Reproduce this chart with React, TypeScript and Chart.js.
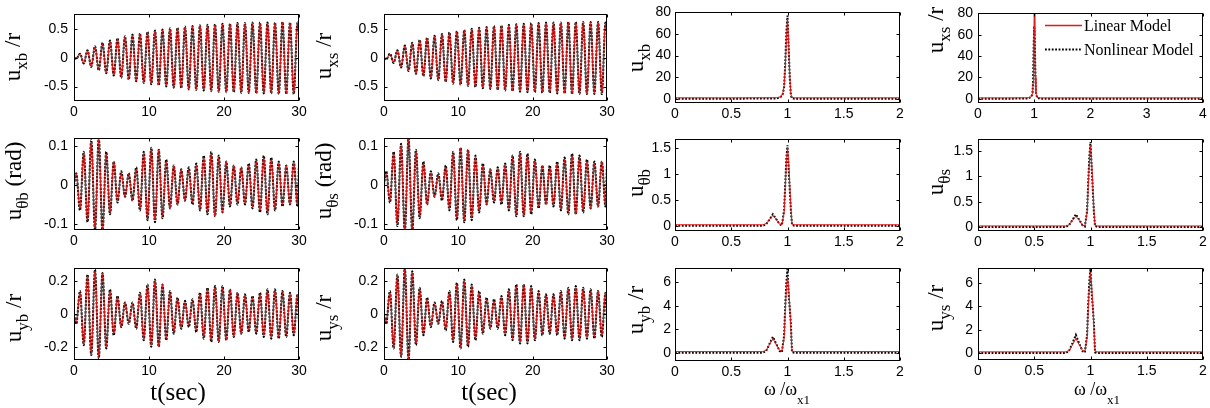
import React, { useEffect, useRef } from 'react';
import { Chart, registerables } from 'chart.js';
Chart.register(...registerables);

// ---------- time-domain data (extrema) ----------
const tExt = [0,
  0.3, 0.8, 1.3, 1.8, 2.3, 2.8, 3.3, 3.8, 4.3, 4.8, 5.3, 5.8, 6.3, 6.8, 7.3, 7.8, 8.3, 8.8, 9.3, 9.8,
  10.3, 10.8, 11.3, 11.8, 12.3, 12.8, 13.3, 13.8, 14.3, 14.8, 15.3, 15.8, 16.3, 16.8, 17.3, 17.8, 18.3, 18.8, 19.3, 19.8,
  20.3, 20.8, 21.3, 21.8, 22.3, 22.8, 23.3, 23.8, 24.3, 24.8, 25.3, 25.8, 26.3, 26.8, 27.3, 27.8, 28.3, 28.8, 29.3, 29.8,
  30];

const uxbLin = [0,
  -0.02, 0.06, -0.09, 0.12, -0.15, 0.19, -0.21, 0.24, -0.26, 0.29, -0.30, 0.32, -0.34, 0.36, -0.37, 0.39, -0.40, 0.41, -0.43, 0.44,
  -0.45, 0.46, -0.47, 0.48, -0.49, 0.50, -0.51, 0.51, -0.52, 0.53, -0.54, 0.54, -0.55, 0.55, -0.56, 0.56, -0.57, 0.57, -0.58, 0.58,
  -0.59, 0.58, -0.59, 0.59, -0.60, 0.59, -0.60, 0.60, -0.61, 0.60, -0.61, 0.60, -0.61, 0.60, -0.62, 0.61, -0.62, 0.60, -0.62, 0.60,
  0.45];
const uxbNon = [0,
  -0.02, 0.07, -0.10, 0.13, -0.16, 0.20, -0.22, 0.26, -0.27, 0.30, -0.31, 0.34, -0.35, 0.37, -0.38, 0.40, -0.41, 0.42, -0.44, 0.45,
  -0.46, 0.47, -0.48, 0.49, -0.50, 0.51, -0.52, 0.52, -0.53, 0.54, -0.55, 0.55, -0.56, 0.56, -0.57, 0.57, -0.58, 0.58, -0.59, 0.59,
  -0.60, 0.59, -0.60, 0.60, -0.61, 0.60, -0.61, 0.61, -0.62, 0.61, -0.62, 0.61, -0.62, 0.61, -0.63, 0.62, -0.63, 0.61, -0.63, 0.61,
  0.46];

const uxsLin = [0,
  -0.03, 0.06, -0.08, 0.12, -0.16, 0.20, -0.22, 0.25, -0.27, 0.30, -0.31, 0.34, -0.35, 0.37, -0.38, 0.40, -0.41, 0.43, -0.44, 0.45,
  -0.46, 0.47, -0.48, 0.49, -0.50, 0.51, -0.52, 0.52, -0.53, 0.54, -0.55, 0.55, -0.56, 0.56, -0.57, 0.57, -0.58, 0.58, -0.59, 0.59,
  -0.59, 0.59, -0.60, 0.60, -0.60, 0.60, -0.61, 0.60, -0.61, 0.61, -0.62, 0.61, -0.62, 0.61, -0.62, 0.61, -0.62, 0.61, -0.62, 0.60,
  0.44];
const uxsNon = [0,
  -0.03, 0.07, -0.09, 0.13, -0.17, 0.21, -0.23, 0.26, -0.28, 0.31, -0.32, 0.35, -0.36, 0.38, -0.39, 0.41, -0.42, 0.44, -0.45, 0.46,
  -0.47, 0.48, -0.49, 0.50, -0.51, 0.52, -0.53, 0.53, -0.54, 0.55, -0.56, 0.56, -0.57, 0.57, -0.58, 0.58, -0.59, 0.59, -0.60, 0.60,
  -0.60, 0.60, -0.61, 0.61, -0.61, 0.61, -0.62, 0.61, -0.62, 0.62, -0.63, 0.62, -0.63, 0.62, -0.63, 0.62, -0.63, 0.62, -0.63, 0.61,
  0.45];

const uthbLin = [0,
  0.03, -0.06, 0.08, -0.09, 0.11, -0.11, 0.115, -0.115, 0.08, -0.07, 0.06, -0.04, 0.03, -0.03, 0.03, -0.04, 0.04, -0.06, 0.08, -0.085,
  0.09, -0.09, 0.09, -0.08, 0.06, -0.06, 0.05, -0.05, 0.04, -0.04, 0.04, -0.045, 0.05, -0.06, 0.07, -0.07, 0.08, -0.08, 0.07, -0.07,
  0.06, -0.05, 0.05, -0.045, 0.045, -0.045, 0.05, -0.055, 0.06, -0.065, 0.07, -0.07, 0.065, -0.06, 0.055, -0.05, 0.05, -0.05, 0.055, -0.05,
  0.05];
const uthbNon = [0,
  0.03, -0.065, 0.085, -0.095, 0.115, -0.115, 0.12, -0.12, 0.085, -0.075, 0.06, -0.045, 0.035, -0.03, 0.03, -0.04, 0.045, -0.065, 0.085, -0.09,
  0.095, -0.095, 0.09, -0.085, 0.065, -0.06, 0.05, -0.05, 0.04, -0.04, 0.045, -0.05, 0.055, -0.065, 0.075, -0.075, 0.085, -0.08, 0.075, -0.07,
  0.06, -0.055, 0.05, -0.05, 0.045, -0.05, 0.055, -0.06, 0.065, -0.07, 0.075, -0.075, 0.07, -0.065, 0.06, -0.055, 0.05, -0.05, 0.06, -0.055,
  0.055];

const uthsLin = [0,
  0.03, -0.04, 0.08, -0.10, 0.10, -0.12, 0.12, -0.12, 0.085, -0.08, 0.055, -0.05, 0.03, -0.03, 0.025, -0.035, 0.045, -0.06, 0.08, -0.085,
  0.095, -0.09, 0.09, -0.085, 0.07, -0.065, 0.05, -0.05, 0.04, -0.04, 0.04, -0.045, 0.05, -0.06, 0.07, -0.075, 0.08, -0.08, 0.075, -0.07,
  0.06, -0.055, 0.05, -0.05, 0.045, -0.05, 0.055, -0.06, 0.065, -0.07, 0.075, -0.075, 0.07, -0.065, 0.06, -0.06, 0.055, -0.055, 0.06, -0.05,
  0.05];
const uthsNon = [0,
  0.035, -0.045, 0.085, -0.105, 0.105, -0.12, 0.12, -0.12, 0.09, -0.085, 0.06, -0.05, 0.035, -0.03, 0.03, -0.04, 0.05, -0.065, 0.085, -0.09,
  0.095, -0.095, 0.09, -0.09, 0.075, -0.07, 0.055, -0.05, 0.04, -0.045, 0.045, -0.05, 0.055, -0.065, 0.075, -0.08, 0.085, -0.08, 0.08, -0.075,
  0.065, -0.06, 0.05, -0.05, 0.05, -0.055, 0.06, -0.065, 0.07, -0.075, 0.08, -0.075, 0.075, -0.07, 0.065, -0.06, 0.06, -0.055, 0.06, -0.055,
  0.055];

const uybLin = [0,
  -0.05, 0.13, -0.18, 0.23, -0.24, 0.26, -0.26, 0.25, -0.20, 0.14, -0.12, 0.10, -0.08, 0.07, -0.05, 0.06, -0.08, 0.12, -0.15, 0.17,
  -0.19, 0.20, -0.20, 0.18, -0.15, 0.13, -0.11, 0.09, -0.08, 0.07, -0.07, 0.08, -0.10, 0.12, -0.14, 0.15, -0.16, 0.16, -0.17, 0.16,
  -0.16, 0.15, -0.14, 0.13, -0.12, 0.11, -0.10, 0.10, -0.11, 0.12, -0.13, 0.14, -0.14, 0.14, -0.14, 0.13, -0.13, 0.12, -0.12, 0.12,
  -0.05];
const uybNon = [0,
  -0.06, 0.14, -0.19, 0.24, -0.25, 0.27, -0.27, 0.25, -0.21, 0.15, -0.13, 0.11, -0.08, 0.07, -0.06, 0.07, -0.09, 0.13, -0.16, 0.18,
  -0.20, 0.21, -0.20, 0.18, -0.16, 0.14, -0.12, 0.10, -0.09, 0.08, -0.08, 0.09, -0.11, 0.13, -0.15, 0.16, -0.17, 0.17, -0.17, 0.17,
  -0.16, 0.15, -0.14, 0.13, -0.12, 0.12, -0.11, 0.11, -0.12, 0.13, -0.14, 0.15, -0.15, 0.15, -0.15, 0.14, -0.14, 0.13, -0.13, 0.12,
  -0.06];

const uysLin = [0,
  -0.05, 0.13, -0.20, 0.23, -0.25, 0.27, -0.28, 0.25, -0.18, 0.15, -0.12, 0.09, -0.07, 0.06, -0.05, 0.07, -0.09, 0.13, -0.16, 0.18,
  -0.20, 0.20, -0.19, 0.17, -0.15, 0.13, -0.11, 0.09, -0.08, 0.08, -0.08, 0.10, -0.12, 0.14, -0.15, 0.17, -0.17, 0.18, -0.17, 0.16,
  -0.15, 0.13, -0.12, 0.11, -0.11, 0.11, -0.12, 0.13, -0.14, 0.15, -0.15, 0.16, -0.15, 0.15, -0.14, 0.14, -0.14, 0.14, -0.13, 0.13,
  -0.05];
const uysNon = [0,
  -0.06, 0.14, -0.21, 0.24, -0.26, 0.28, -0.28, 0.26, -0.19, 0.16, -0.13, 0.10, -0.08, 0.07, -0.06, 0.08, -0.10, 0.14, -0.17, 0.19,
  -0.21, 0.21, -0.20, 0.18, -0.16, 0.14, -0.12, 0.10, -0.09, 0.09, -0.09, 0.11, -0.13, 0.15, -0.16, 0.18, -0.18, 0.18, -0.18, 0.17,
  -0.16, 0.14, -0.13, 0.12, -0.12, 0.12, -0.13, 0.14, -0.15, 0.16, -0.16, 0.17, -0.16, 0.16, -0.15, 0.15, -0.15, 0.14, -0.14, 0.13,
  -0.06];

// ---------- frequency-domain data ----------
const wxb = [0, 0.5, 0.9, 0.93, 0.95, 0.96, 0.97, 0.98, 0.99, 1.0, 1.01, 1.02, 1.03, 1.04, 1.06, 1.5, 2];
const fxbLin = [0.8, 0.8, 0.9, 1.5, 3, 6, 12, 28, 55, 74, 52, 22, 4, 1, 0.8, 0.8, 0.8];
const fxbNon = [0, 0, 0.2, 1, 2.5, 5, 11, 33, 62, 77, 48, 20, 3, 0.5, 0, 0, 0];

const wxs = [0, 0.5, 0.9, 0.95, 0.97, 0.98, 0.99, 1.0, 1.01, 1.02, 1.03, 1.05, 1.1, 2, 3, 4];
const fxsLin = [0.8, 0.8, 0.9, 2, 5, 15, 45, 85, 60, 20, 5, 1.2, 0.8, 0.8, 0.8, 0.8];
const fxsNon = [0, 0, 0.3, 2, 6, 18, 50, 68, 55, 25, 6, 1, 0, 0, 0, 0];

const wth = [0, 0.5, 0.78, 0.81, 0.84, 0.87, 0.9, 0.93, 0.95, 0.97, 0.98, 0.99, 1.0, 1.01, 1.02, 1.03, 1.04, 1.06, 1.5, 2];
const fthbLin = [0.02, 0.02, 0.02, 0.04, 0.12, 0.2, 0.12, 0.03, 0.02, 0.25, 0.75, 1.2, 1.5, 1.25, 0.8, 0.35, 0.03, 0.02, 0.02, 0.02];
const fthbNon = [0, 0, 0, 0.03, 0.12, 0.22, 0.13, 0.03, 0.01, 0.3, 0.8, 1.3, 1.55, 1.1, 0.7, 0.3, 0.02, 0, 0, 0];
const fthsLin = [0.02, 0.02, 0.02, 0.04, 0.13, 0.21, 0.13, 0.03, 0.02, 0.28, 0.8, 1.3, 1.62, 1.3, 0.85, 0.35, 0.03, 0.02, 0.02, 0.02];
const fthsNon = [0, 0, 0, 0.04, 0.14, 0.25, 0.14, 0.03, 0.01, 0.32, 0.9, 1.4, 1.68, 1.2, 0.75, 0.3, 0.02, 0, 0, 0];

const wy = [0, 0.5, 0.78, 0.81, 0.84, 0.87, 0.9, 0.93, 0.95, 0.97, 0.98, 0.99, 1.0, 1.01, 1.02, 1.03, 1.04, 1.06, 1.5, 2];
const fybLin = [0.1, 0.1, 0.1, 0.2, 0.7, 1.2, 0.7, 0.2, 0.15, 1.2, 3.5, 5.5, 6.5, 5.5, 4.0, 2.0, 0.15, 0.1, 0.1, 0.1];
const fybNon = [0, 0, 0, 0.15, 0.75, 1.35, 0.75, 0.15, 0.05, 1.5, 4, 6, 7.1, 5, 3.8, 2.5, 0.05, 0, 0, 0];
const fysLin = [0.1, 0.1, 0.1, 0.2, 0.7, 1.25, 0.7, 0.2, 0.15, 1.3, 3.8, 5.8, 6.9, 5.8, 4.2, 2.2, 0.15, 0.1, 0.1, 0.1];
const fysNon = [0, 0, 0, 0.2, 0.85, 1.55, 0.8, 0.15, 0.05, 1.6, 4.2, 6.2, 7.2, 5.2, 4.0, 2.6, 0.05, 0, 0, 0];

// ---------- ticks ----------
const tTicks = [0, 10, 20, 30];
const wTicks = [0, 0.5, 1, 1.5, 2];
const wTicks4 = [0, 1, 2, 3, 4];
const yTicksX = [-0.5, 0, 0.5];
const yTicksTh = [-0.1, 0, 0.1];
const yTicksY = [-0.2, 0, 0.2];
const yTicksF1 = [0, 20, 40, 60, 80];
const yTicksF2 = [0, 0.5, 1, 1.5];
const yTicksF3 = [0, 2, 4, 6];

// ---------- presentation ----------
const RED = 'rgb(225,25,25)';
const SANS = '"Liberation Sans", Arial, sans-serif';
const SERIF = '"Liberation Serif", "Times New Roman", serif';
const DASH = [2.4, 1.2];

type Part = { t: string; sub?: boolean };
type Spec = {
  box: [number, number, number, number];
  canvas: [number, number, number, number];
  xMin: number; xMax: number; xTicks: number[];
  yMin: number; yMax: number; yTicks: number[];
  xs: number[]; lin: number[]; non: number[]; smooth: boolean;
  yLabel: Part[]; yLabelPos: [number, number];
  xLabel?: Part[]; xLabelPos?: [number, number];
  yPad: number; legend?: boolean;
};

const fmt = (v: number) => String(v);

function zip(xs: number[], ys: number[]) {
  const n = Math.min(xs.length, ys.length);
  const out: { x: number; y: number }[] = [];
  for (let i = 0; i < n; i++) out.push({ x: xs[i], y: ys[i] });
  return out;
}

function drawParts(ctx: CanvasRenderingContext2D, parts: Part[], x: number, y: number, size: number, rotate: boolean, subShift: number) {
  ctx.save();
  ctx.translate(x, y);
  if (rotate) ctx.rotate(-Math.PI / 2);
  ctx.fillStyle = '#000';
  ctx.textBaseline = 'alphabetic';
  ctx.textAlign = 'left';
  const fonts = parts.map(p => `${p.sub ? Math.round(size * 0.72) : size}px ${SERIF}`);
  let total = 0;
  const widths = parts.map((p, i) => { ctx.font = fonts[i]; const w = ctx.measureText(p.t).width; total += w; return w; });
  let pos = -total / 2;
  parts.forEach((p, i) => {
    ctx.font = fonts[i];
    ctx.fillText(p.t, pos, p.sub ? subShift : 0);
    pos += widths[i];
  });
  ctx.restore();
}

function makePlugin(spec: Spec) {
  const [cx, cy] = spec.canvas;
  return {
    id: 'matlabFrame',
    afterDatasetsDraw(chart: any) {
      const { ctx, chartArea: a, scales } = chart;
      const L = Math.round(a.left) + 0.5, T = Math.round(a.top) + 0.5;
      const R = Math.round(a.right) - 0.5, B = Math.round(a.bottom) - 0.5;
      ctx.save();
      ctx.strokeStyle = '#000';
      ctx.lineWidth = 1;
      ctx.setLineDash([]);
      ctx.strokeRect(L, T, R - L, B - T);
      ctx.beginPath();
      const tl = 3;
      spec.xTicks.forEach(v => {
        const px = Math.round(scales.x.getPixelForValue(v)) + 0.5;
        ctx.moveTo(px, B); ctx.lineTo(px, B - tl);
        ctx.moveTo(px, T); ctx.lineTo(px, T + tl);
      });
      spec.yTicks.forEach(v => {
        const py = Math.round(scales.y.getPixelForValue(v)) + 0.5;
        ctx.moveTo(L, py); ctx.lineTo(L + tl, py);
        ctx.moveTo(R, py); ctx.lineTo(R - tl, py);
      });
      ctx.stroke();
      ctx.restore();
    },
    afterDraw(chart: any) {
      const ctx: CanvasRenderingContext2D = chart.ctx;
      drawParts(ctx, spec.yLabel, spec.yLabelPos[0] - cx, spec.yLabelPos[1] - cy, 23, true, 7);
      if (spec.xLabel && spec.xLabelPos) {
        const isW = spec.xLabel.length > 1;
        drawParts(ctx, spec.xLabel, spec.xLabelPos[0] - cx, spec.xLabelPos[1] - cy, isW ? 18 : 25, false, 9);
      }
      if (spec.legend) {
        ctx.save();
        ctx.setLineDash([]);
        ctx.strokeStyle = RED; ctx.lineWidth = 1.3;
        ctx.beginPath(); ctx.moveTo(1045 - cx, 25.5 - cy); ctx.lineTo(1082 - cx, 25.5 - cy); ctx.stroke();
        ctx.strokeStyle = '#000'; ctx.lineWidth = 2; ctx.setLineDash([1.8, 1.6]);
        ctx.beginPath(); ctx.moveTo(1045 - cx, 49.5 - cy); ctx.lineTo(1082 - cx, 49.5 - cy); ctx.stroke();
        ctx.setLineDash([]);
        ctx.fillStyle = '#000';
        ctx.font = `16px ${SERIF}`;
        ctx.textBaseline = 'alphabetic';
        ctx.fillText('Linear Model', 1084 - cx, 31 - cy);
        ctx.fillText('Nonlinear Model', 1084 - cx, 55 - cy);
        ctx.restore();
      }
    },
  };
}

function Panel({ spec }: { spec: Spec }) {
  const ref = useRef<HTMLCanvasElement>(null);
  useEffect(() => {
    const [cx, cy, cw, ch] = spec.canvas;
    const [bl, bt, br, bb] = spec.box;
    const tickFont = { family: SANS, size: 14 };
    const chart = new Chart(ref.current as HTMLCanvasElement, {
      type: 'line',
      data: {
        datasets: [
          {
            label: 'Linear Model', data: zip(spec.xs, spec.lin), borderColor: RED, borderWidth: 1,
            pointRadius: 0, tension: 0, cubicInterpolationMode: spec.smooth ? 'monotone' : 'default', fill: false,
          },
          {
            label: 'Nonlinear Model', data: zip(spec.xs, spec.non), borderColor: '#000', borderWidth: 2,
            borderDash: spec.smooth ? DASH : [1.8, 1.6], pointRadius: 0, tension: 0,
            cubicInterpolationMode: spec.smooth ? 'monotone' : 'default', fill: false,
          },
        ],
      },
      options: {
        animation: false,
        responsive: false,
        devicePixelRatio: 1,
        events: [],
        layout: { padding: { left: 0, top: bt - cy, right: cx + cw - br, bottom: 0 } },
        plugins: { legend: { display: false }, tooltip: { enabled: false } },
        scales: {
          x: {
            type: 'linear', min: spec.xMin, max: spec.xMax,
            grid: { display: false, drawTicks: false }, border: { display: false },
            ticks: { font: tickFont, color: '#000', padding: 3, autoSkip: false, maxRotation: 0, callback: (v: any) => fmt(Number(v)) },
            afterBuildTicks: (s: any) => { s.ticks = spec.xTicks.map(v => ({ value: v })); },
            afterFit: (s: any) => { s.height = cy + ch - bb; },
          },
          y: {
            type: 'linear', min: spec.yMin, max: spec.yMax,
            grid: { display: false, drawTicks: false }, border: { display: false },
            ticks: { font: tickFont, color: '#000', padding: spec.yPad, autoSkip: false, callback: (v: any) => fmt(Number(v)) },
            afterBuildTicks: (s: any) => { s.ticks = spec.yTicks.map(v => ({ value: v })); },
            afterFit: (s: any) => { s.width = bl - cx; },
          },
        },
      } as any,
      plugins: [makePlugin(spec) as any],
    });
    return () => chart.destroy();
  }, [spec]);
  const [cx, cy, cw, ch] = spec.canvas;
  return <canvas ref={ref} width={cw} height={ch} style={{ position: 'absolute', left: cx, top: cy }} />;
}

const U = (sub: string, rest: string): Part[] => [{ t: 'u' }, { t: sub, sub: true }, { t: rest }];
const tLabel: Part[] = [{ t: 't(sec)' }];
const wLabel: Part[] = [{ t: 'ω /ω' }, { t: 'x1', sub: true }];

const specs: Spec[] = [
  // row 1
  { box: [74, 8, 299, 101], canvas: [0, 0, 314, 124], xMin: 0, xMax: 30, xTicks: tTicks, yMin: -0.75, yMax: 0.75, yTicks: yTicksX,
    xs: tExt, lin: uxbLin, non: uxbNon, smooth: true, yLabel: U('xb', ' /r'), yLabelPos: [20, 57], yPad: 6 },
  { box: [384, 8, 607, 101], canvas: [310, 0, 312, 124], xMin: 0, xMax: 30, xTicks: tTicks, yMin: -0.75, yMax: 0.75, yTicks: yTicksX,
    xs: tExt, lin: uxsLin, non: uxsNon, smooth: true, yLabel: U('xs', ' /r'), yLabelPos: [331, 56], yPad: 6 },
  { box: [675, 12, 900, 103], canvas: [626, 0, 288, 126], xMin: 0, xMax: 2, xTicks: wTicks, yMin: -4, yMax: 80, yTicks: yTicksF1,
    xs: wxb, lin: fxbLin, non: fxbNon, smooth: false, yLabel: U('xb', ''), yLabelPos: [643, 58], yPad: 4 },
  { box: [978, 12, 1203, 103], canvas: [926, 0, 284, 126], xMin: 0, xMax: 4, xTicks: wTicks4, yMin: -4, yMax: 80, yTicks: yTicksF1,
    xs: wxs, lin: fxsLin, non: fxsNon, smooth: false, yLabel: U('xs', ' /r'), yLabelPos: [943, 30], yPad: 5, legend: true },
  // row 2
  { box: [74, 138, 299, 230], canvas: [0, 118, 314, 134], xMin: 0, xMax: 30, xTicks: tTicks, yMin: -0.115, yMax: 0.12, yTicks: yTicksTh,
    xs: tExt, lin: uthbLin, non: uthbNon, smooth: true, yLabel: U('θb', ' (rad)'), yLabelPos: [21, 181], yPad: 6 },
  { box: [384, 138, 607, 230], canvas: [310, 118, 312, 134], xMin: 0, xMax: 30, xTicks: tTicks, yMin: -0.115, yMax: 0.12, yTicks: yTicksTh,
    xs: tExt, lin: uthsLin, non: uthsNon, smooth: true, yLabel: U('θs', ' (rad)'), yLabelPos: [331, 181], yPad: 6 },
  { box: [675, 139, 900, 231], canvas: [626, 118, 288, 135], xMin: 0, xMax: 2, xTicks: wTicks, yMin: -0.1, yMax: 1.67, yTicks: yTicksF2,
    xs: wth, lin: fthbLin, non: fthbNon, smooth: false, yLabel: U('θb', ''), yLabelPos: [643, 183], yPad: 4 },
  { box: [978, 139, 1203, 231], canvas: [926, 118, 284, 135], xMin: 0, xMax: 2, xTicks: wTicks, yMin: -0.08, yMax: 1.74, yTicks: yTicksF2,
    xs: wth, lin: fthsLin, non: fthsNon, smooth: false, yLabel: U('θs', ''), yLabelPos: [943, 182], yPad: 5 },
  // row 3
  { box: [74, 268, 299, 360], canvas: [0, 250, 314, 158], xMin: 0, xMax: 30, xTicks: tTicks, yMin: -0.28, yMax: 0.28, yTicks: yTicksY,
    xs: tExt, lin: uybLin, non: uybNon, smooth: true, yLabel: U('yb', ' /r'), yLabelPos: [21, 318], yPad: 6,
    xLabel: tLabel, xLabelPos: [178, 400] },
  { box: [384, 268, 607, 360], canvas: [310, 250, 312, 158], xMin: 0, xMax: 30, xTicks: tTicks, yMin: -0.28, yMax: 0.28, yTicks: yTicksY,
    xs: tExt, lin: uysLin, non: uysNon, smooth: true, yLabel: U('ys', ' /r'), yLabelPos: [331, 318], yPad: 6,
    xLabel: tLabel, xLabelPos: [489, 400] },
  { box: [675, 268, 900, 361], canvas: [626, 250, 288, 158], xMin: 0, xMax: 2, xTicks: wTicks, yMin: -0.7, yMax: 7.2, yTicks: yTicksF3,
    xs: wy, lin: fybLin, non: fybNon, smooth: false, yLabel: U('yb', ' /r'), yLabelPos: [643, 310], yPad: 4,
    xLabel: wLabel, xLabelPos: [787, 395] },
  { box: [978, 268, 1203, 360], canvas: [926, 250, 284, 158], xMin: 0, xMax: 2, xTicks: wTicks, yMin: -0.6, yMax: 7.3, yTicks: yTicksF3,
    xs: wy, lin: fysLin, non: fysNon, smooth: false, yLabel: U('ys', ' /r'), yLabelPos: [943, 308], yPad: 5,
    xLabel: wLabel, xLabelPos: [1097, 395] },
];

export default function App() {
  return (
    <div style={{ position: 'absolute', left: 0, top: 0, width: 1210, height: 408, overflow: 'hidden', background: '#fff' }}>
      {specs.map((s, i) => <Panel key={i} spec={s} />)}
    </div>
  );
}
